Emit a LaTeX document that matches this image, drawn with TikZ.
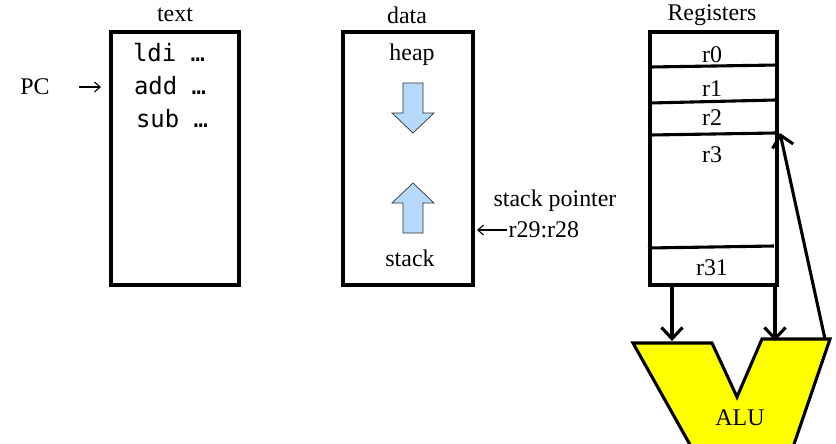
\documentclass[tikz,border=0pt]{standalone}
\usepackage{fontspec}
\setmainfont{Liberation Serif}
\newfontfamily\codefont{DejaVu Sans Mono}
\usetikzlibrary{arrows.meta}

\definecolor{heapblue}{RGB}{182,216,250}
\definecolor{aluyellow}{RGB}{255,255,0}

\begin{document}
\begin{tikzpicture}[
    x=0.025cm, y=-0.025cm,
    segbox/.style={rectangle, draw, line width=2.2pt, minimum height=6.325cm, inner sep=0pt},
    lbl/.style={font=\fontsize{17}{20}\selectfont, inner sep=1pt},
    code/.style={font=\codefont\fontsize{17}{20}\selectfont, inner sep=1pt},
    thinarrow/.style={-{Straight Barb[length=4pt,width=7pt]}, line width=0.8pt},
    thickarrow/.style={-{Straight Barb[length=8pt,width=15pt]}, line width=2.2pt},
    regline/.style={line width=2.2pt},
    blockarrow/.style={draw=black!80, line width=0.5pt, fill=heapblue}
]
    \useasboundingbox (0,0) rectangle (836,443);

    % Text segment
    \node[segbox, minimum width=3.2cm] (textseg) at (175,158.5) {};
    \node[lbl] (textlbl) at (175,15) {text};
    \node[code] (ldi) at (169,53) {ldi …};
    \node[code] (add) at (170,86) {add …};
    \node[code] (sub) at (172,119) {sub …};

    % Program counter
    \node[lbl] (pc) at (35,87) {PC};
    \coordinate (pctip) at (101,87);
    \draw[thinarrow, shorten <=20pt] (pc.east) -- (pctip);

    % Data segment
    \node[segbox, minimum width=3.25cm] (dataseg) at (408,158.5) {};
    \node[lbl] (datalbl) at (407,15) {data};
    \node[lbl] (heap) at (412,55) {heap};
    \node[lbl] (stack) at (410,258) {stack};
    \draw[blockarrow] (403,83) -- (423,83) -- (423,113) -- (434,113) -- (413,133)
        -- (392,113) -- (403,113) -- cycle;
    \draw[blockarrow] (413,183) -- (434,203) -- (423,203) -- (423,233) -- (403,233)
        -- (403,203) -- (392,203) -- cycle;

    % Stack pointer
    \node[lbl] (splbl) at (555,201) {stack pointer};
    \node[lbl, anchor=west] (spreg) at (507,230) {r29:r28};
    \coordinate (sptip) at (477,230);
    \draw[thinarrow] (spreg.west) -- (sptip);

    % Register file
    \node[segbox, minimum width=3.175cm] (regs) at (713.5,158.5) {};
    \node[lbl] (regslbl) at (712,15) {Registers};
    \node[lbl] (r0) at (712,55) {r0};
    \node[lbl] (r1) at (712,89) {r1};
    \node[lbl] (r2) at (712,118) {r2};
    \node[lbl] (r3) at (712,155) {r3};
    \node[lbl] (r31) at (712,268) {r31};
    \draw[regline] (650,67) -- (777,65);
    \draw[regline] (650,103) -- (775,100);
    \draw[regline] (650,135) -- (775,133);
    \draw[regline] (648,248) -- (774,246);

    % ALU
    \draw[line width=2.2pt, fill=aluyellow, line join=miter]
        (633,343) -- (712,343) -- (737,397) -- (762,339) -- (830,339)
        -- (792,450) -- (693,450) -- cycle;
    \node[lbl] (alu) at (740,418) {ALU};

    % Operands in, result back
    \coordinate (alua) at (672,341);
    \coordinate (alub) at (775,341);
    \coordinate (aluout) at (825,339);
    \coordinate (r2in) at (780,133);
    \draw[thickarrow] (regs.south -| alua) -- (alua);
    \draw[thickarrow] (regs.south -| alub) -- (alub);
    \draw[thickarrow] (aluout) -- (r2in);
\end{tikzpicture}
\end{document}
